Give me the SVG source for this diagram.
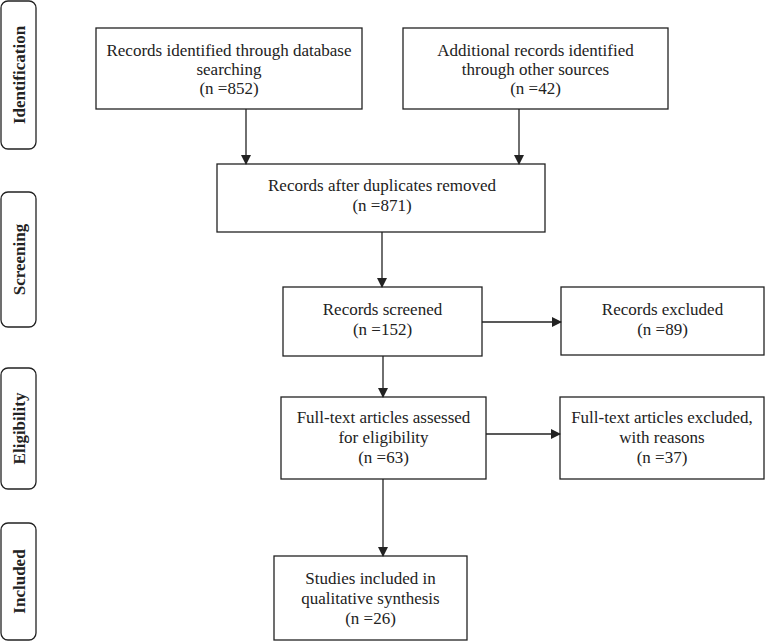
<svg xmlns="http://www.w3.org/2000/svg" width="766" height="642" viewBox="0 0 766 642">
<defs>
<style>
.box{fill:#fff;stroke:#222;stroke-width:1.3}
.side{fill:#fff;stroke:#222;stroke-width:1.3}
.t{font-family:"Liberation Serif","Times New Roman",serif;font-size:17px;fill:#222;text-anchor:middle}
.s{font-family:"Liberation Serif","Times New Roman",serif;font-size:17px;font-weight:bold;fill:#222;text-anchor:middle}
.c{stroke:#222;stroke-width:1.3;fill:none;marker-end:url(#ah)}
</style>
<marker id="ah" markerWidth="10" markerHeight="10" refX="9" refY="5" orient="auto" markerUnits="userSpaceOnUse">
<path d="M0,0 L10,5 L0,10 z" fill="#222"/>
</marker>
</defs>
<rect width="766" height="642" fill="#fff"/>
<g id="side-identification"><rect class="side" x="1" y="1" width="35" height="148" rx="7"/><text class="s" transform="translate(25,75) rotate(-90)">Identification</text></g>
<g id="side-screening"><rect class="side" x="1" y="192" width="35" height="135" rx="7"/><text class="s" transform="translate(25,259.5) rotate(-90)">Screening</text></g>
<g id="side-eligibility"><rect class="side" x="1" y="368" width="35" height="121" rx="7"/><text class="s" transform="translate(25,428.5) rotate(-90)">Eligibility</text></g>
<g id="side-included"><rect class="side" x="1" y="523" width="35" height="117" rx="7"/><text class="s" transform="translate(25,581.5) rotate(-90)">Included</text></g>

<g id="n-db"><rect class="box" x="96" y="28" width="266" height="81"/>
<text class="t" x="229" y="56">Records identified through database</text>
<text class="t" x="229" y="75">searching</text>
<text class="t" x="229" y="94">(n =852)</text></g>
<g id="n-other"><rect class="box" x="403" y="28" width="265" height="81"/>
<text class="t" x="535.5" y="56">Additional records identified</text>
<text class="t" x="535.5" y="75">through other sources</text>
<text class="t" x="535.5" y="94">(n =42)</text></g>
<g id="n-dup"><rect class="box" x="217" y="164" width="328" height="68"/>
<text class="t" x="382" y="191">Records after duplicates removed</text>
<text class="t" x="382" y="211">(n =871)</text></g>
<g id="n-screened"><rect class="box" x="283" y="287" width="199" height="69"/>
<text class="t" x="382.5" y="315">Records screened</text>
<text class="t" x="382.5" y="335">(n =152)</text></g>
<g id="n-excl"><rect class="box" x="561" y="287" width="203" height="68"/>
<text class="t" x="662.5" y="315">Records excluded</text>
<text class="t" x="662.5" y="335">(n =89)</text></g>
<g id="n-full"><rect class="box" x="281" y="397" width="205" height="82"/>
<text class="t" x="383.5" y="423">Full-text articles assessed</text>
<text class="t" x="383.5" y="443">for eligibility</text>
<text class="t" x="383.5" y="463">(n =63)</text></g>
<g id="n-fullexcl"><rect class="box" x="560" y="397" width="204" height="82"/>
<text class="t" x="662" y="423">Full-text articles excluded,</text>
<text class="t" x="662" y="443">with reasons</text>
<text class="t" x="662" y="463">(n =37)</text></g>
<g id="n-incl"><rect class="box" x="274" y="556" width="193" height="84"/>
<text class="t" x="370.5" y="584">Studies included in</text>
<text class="t" x="370.5" y="604">qualitative synthesis</text>
<text class="t" x="370.5" y="624">(n =26)</text></g>

<g id="connectors">
<line class="c" x1="246" y1="109" x2="246" y2="164"/>
<line class="c" x1="519" y1="109" x2="519" y2="164"/>
<line class="c" x1="382" y1="232" x2="382" y2="287"/>
<line class="c" x1="482" y1="322" x2="561" y2="322"/>
<line class="c" x1="383" y1="356" x2="383" y2="397"/>
<line class="c" x1="486" y1="434" x2="560" y2="434"/>
<line class="c" x1="383" y1="479" x2="383" y2="556"/>
</g>
</svg>
